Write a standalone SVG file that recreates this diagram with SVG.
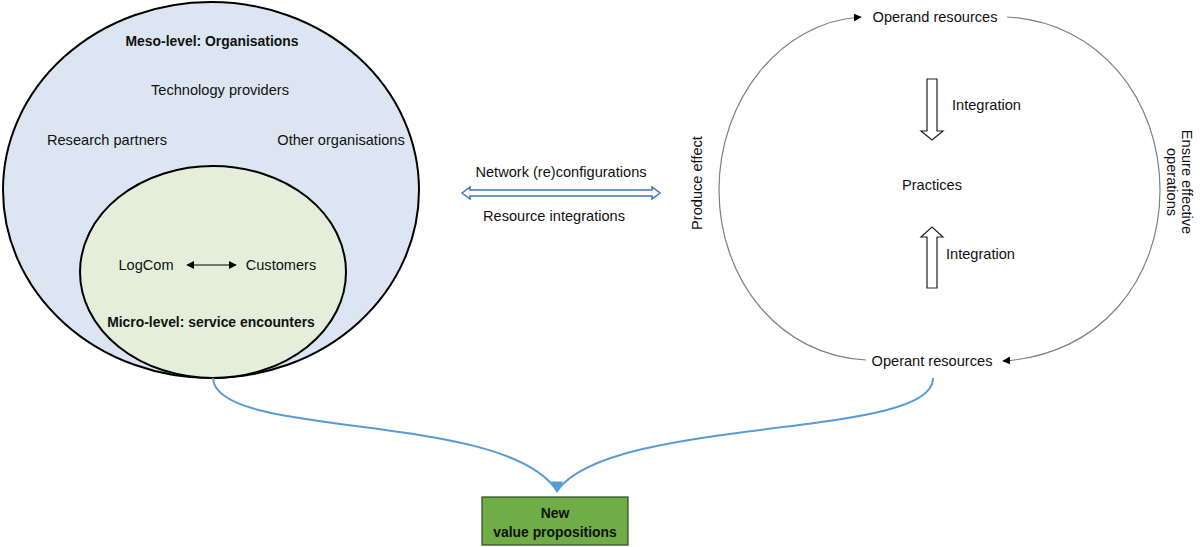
<svg xmlns="http://www.w3.org/2000/svg" width="1203" height="547" viewBox="0 0 1203 547">
<style>
text{font-family:"Liberation Sans",Arial,sans-serif;font-size:14.6px;fill:#111}
.b{font-weight:bold;font-size:13.9px}
.m{text-anchor:middle}
.cyc{fill:none;stroke:#808080;stroke-width:1.2}
.blue{fill:none;stroke:#5b9bd5;stroke-width:2}
.hollow{fill:#fff;stroke:#222;stroke-width:1.2}
</style>
<defs>
<marker id="ah" viewBox="0 0 10 10" refX="9" refY="5" markerWidth="8" markerHeight="8" markerUnits="userSpaceOnUse" orient="auto-start-reverse"><path d="M0,0 L10,5 L0,10 Z" fill="#000"/></marker>
<marker id="bh" viewBox="0 0 10 10" refX="8" refY="5" markerWidth="12" markerHeight="12" markerUnits="userSpaceOnUse" orient="90"><path d="M0,0 L10,5 L0,10 Z" fill="#5b9bd5"/></marker>
</defs>
<g id="meso">
<ellipse cx="211" cy="190" rx="208" ry="188" fill="#dce6f2" stroke="#000" stroke-width="2"/>
<text class="b m" x="212" y="46">Meso-level: Organisations</text>
<text class="m" x="220" y="95">Technology providers</text>
<text class="m" x="107" y="145">Research partners</text>
<text class="m" x="341" y="145">Other organisations</text>
</g>
<g id="micro">
<ellipse cx="213" cy="272" rx="133" ry="106" fill="#e3efda" stroke="#000" stroke-width="2"/>
<text class="m" x="146" y="270">LogCom</text>
<text class="m" x="281" y="270">Customers</text>
<text class="b m" x="211" y="327">Micro-level: service encounters</text>
</g>
<g id="cycle">
<text class="m" x="935" y="22">Operand resources</text>
<text class="m" x="932" y="190">Practices</text>
<text class="m" x="932" y="366">Operant resources</text>
<text x="952" y="110">Integration</text>
<text x="946" y="259">Integration</text>
<text class="m" transform="translate(702,183) rotate(-90)">Produce effect</text>
<text class="m" transform="translate(1182,182) rotate(90)">Ensure effective</text>
<text class="m" transform="translate(1167,182) rotate(90)">operations</text>
</g>
<g id="network-label">
<text class="m" x="561" y="177">Network (re)configurations</text>
<text class="m" x="554" y="221">Resource integrations</text>
</g>
<g id="new-vp">
<rect x="482" y="497" width="146" height="48" fill="#70ad47" stroke="#2e4a1e" stroke-width="1.2"/>
<text class="b m" x="555" y="518">New</text>
<text class="b m" x="555" y="537">value propositions</text>
</g>
<g id="connectors">
<line x1="187" y1="265" x2="236" y2="265" stroke="#000" stroke-width="1" marker-start="url(#ah)" marker-end="url(#ah)"/>
<path d="M462,193 L470,187 L470,190 L652,190 L652,187 L660,193 L652,199 L652,196 L470,196 L470,199 Z" fill="#fff" stroke="#4472c4" stroke-width="1.5"/>
<path class="cyc" d="M866,360 C 780,356 719,280 719,190 C 719,100 780,22 861,17" marker-end="url(#ah)"/>
<path class="cyc" d="M1007,17 C 1100,22 1160,100 1160,190 C 1160,280 1100,355 1003,361" marker-end="url(#ah)"/>
<path class="hollow" d="M927,79 L937,79 L937,131 L943,131 L932,140 L921,131 L927,131 Z"/>
<path class="hollow" d="M927,288 L937,288 L937,237 L943,237 L932,227 L921,237 L927,237 Z"/>
<path class="blue" d="M213,378 C 215,440 505,410 557,491" marker-end="url(#bh)"/>
<path class="blue" d="M933,378 C 935,440 610,415 557,491"/>
</g>
</svg>
